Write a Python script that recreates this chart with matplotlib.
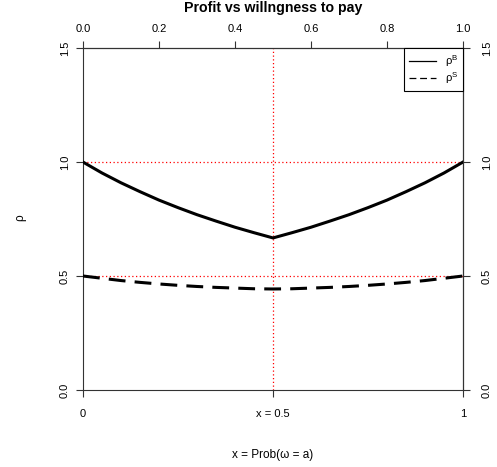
import numpy as np
import matplotlib.pyplot as plt

plt.rcParams['font.family'] = ['Liberation Sans', 'DejaVu Sans']

# x grid and the two curves
x = [0.00, 0.05, 0.10, 0.15, 0.20, 0.25, 0.30, 0.35, 0.40, 0.45, 0.50,
     0.55, 0.60, 0.65, 0.70, 0.75, 0.80, 0.85, 0.90, 0.95, 1.00]
rho_b = [1.000, 0.952, 0.909, 0.870, 0.833, 0.800, 0.769, 0.741, 0.714, 0.690, 0.667,
         0.690, 0.714, 0.741, 0.769, 0.800, 0.833, 0.870, 0.909, 0.952, 1.000]
rho_s = [0.500, 0.490, 0.480, 0.472, 0.465, 0.459, 0.454, 0.450, 0.447, 0.444, 0.443,
         0.444, 0.447, 0.450, 0.454, 0.459, 0.465, 0.472, 0.480, 0.490, 0.500]

hlines = [1.0, 0.5]
vline = 0.5
top_ticks = [0.0, 0.2, 0.4, 0.6, 0.8, 1.0]
bottom_ticks = [0, 0.5, 1]
bottom_labels = ['0', 'x = 0.5', '1']
y_ticks = [0.0, 0.5, 1.0, 1.5]

fig = plt.figure(figsize=(4.97, 4.67), dpi=100)
ax = fig.add_axes([0.167, 0.165, 0.7646, 0.732])

dot = (0, (1, 2))
for h in hlines:
    ax.axhline(h, color='red', lw=0.9, ls=dot, zorder=1)
ax.axvline(vline, color='red', lw=0.9, ls=dot, zorder=1)

ax.plot(x, rho_b, color='black', lw=2.2, label='ρ$^\\mathregular{B}$', zorder=3)
ax.plot(x, rho_s, color='black', lw=2.2, ls=(0, (5.5, 3)),
        label='ρ$^\\mathregular{S}$', zorder=3)

ax.set_xlim(0, 1)
ax.set_ylim(0, 1.5)

for s in ax.spines.values():
    s.set_color('#333333')
    s.set_linewidth(0.8)

tick_kw = dict(direction='out', length=5, width=0.8, color='#333333', labelsize=8)

ax.set_xticks(bottom_ticks)
ax.set_xticklabels(bottom_labels)
ax.set_yticks(y_ticks)
ax.set_yticklabels(['%.1f' % v for v in y_ticks], rotation=90, va='center')
ax.tick_params(axis='x', pad=9, **tick_kw)
ax.tick_params(axis='y', pad=4.5, **tick_kw)

top = ax.secondary_xaxis('top')
top.set_xticks(top_ticks)
top.set_xticklabels(['%.1f' % v for v in top_ticks])
top.tick_params(pad=5, **tick_kw)

right = ax.secondary_yaxis('right')
right.set_yticks(y_ticks)
right.set_yticklabels(['%.1f' % v for v in y_ticks], rotation=90, va='center')
right.tick_params(pad=8.5, **tick_kw)

cx = (0.167 + 0.167 + 0.7646) / 2
fig.text(cx, 1 - 455 / 467, 'x = Prob(ω = a)', ha='center', va='center', fontsize=8.5)
fig.text(20 / 497, 1 - 218 / 467, 'ρ', ha='center', va='center', fontsize=8.5, rotation=90)

fig.text(cx, 1 - 8 / 467, 'Profit vs willngness to pay', ha='center', va='center',
         fontsize=10.2, fontweight='bold')

leg = ax.legend(loc='upper right', bbox_to_anchor=(1, 1), borderaxespad=0,
                fancybox=False, framealpha=1, edgecolor='black', fontsize=8,
                handlelength=2.4, labelspacing=0.1, borderpad=0.45,
                handletextpad=0.8)
leg.get_frame().set_linewidth(0.8)
for ln in leg.get_lines():
    ln.set_linewidth(0.9)

fig.savefig('out.png', dpi=100)
